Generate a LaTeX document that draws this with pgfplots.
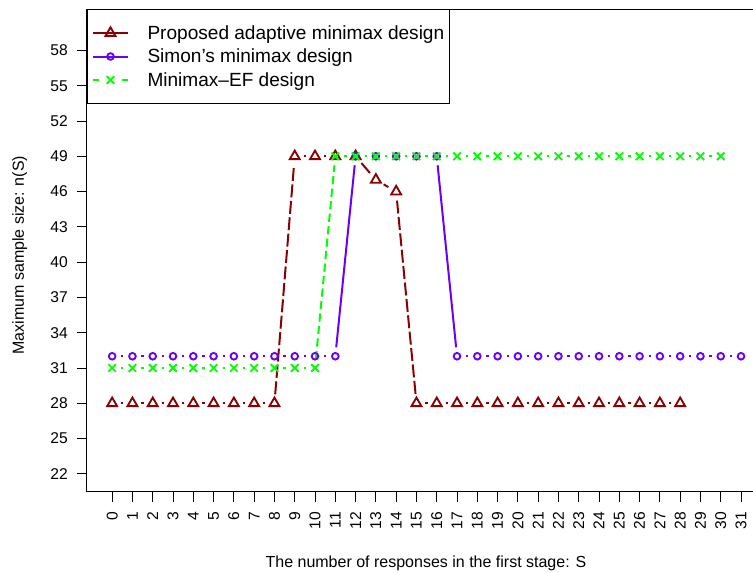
\documentclass[border=0pt]{standalone}
\usepackage{pgfplots}
\pgfplotsset{compat=1.18}
\usepackage{pgfplotstable}
\usepackage{fontspec}
\setmainfont{Liberation Sans}
\definecolor{cRed}{RGB}{139,0,0}
\definecolor{cPur}{RGB}{105,0,255}
\definecolor{cGrn}{RGB}{0,255,0}

% points
\pgfplotstableread{
x y
0 28
1 28
2 28
3 28
4 28
5 28
6 28
7 28
8 28
9 49
10 49
11 49
12 49
13 47
14 46
15 28
16 28
17 28
18 28
19 28
20 28
21 28
22 28
23 28
24 28
25 28
26 28
27 28
28 28
}\propP
\pgfplotstableread{
x y
0 32
1 32
2 32
3 32
4 32
5 32
6 32
7 32
8 32
9 32
10 32
11 32
12 49
13 49
14 49
15 49
16 49
17 32
18 32
19 32
20 32
21 32
22 32
23 32
24 32
25 32
26 32
27 32
28 32
29 32
30 32
31 32
}\simP
\pgfplotstableread{
x y
0 31
1 31
2 31
3 31
4 31
5 31
6 31
7 31
8 31
9 31
10 31
11 49
12 49
13 49
14 49
15 49
16 49
17 49
18 49
19 49
20 49
21 49
22 49
23 49
24 49
25 49
26 49
27 49
28 49
29 49
30 49
}\efP
% segments (type "b": each segment drawn with gaps at both ends)
\pgfplotstableread{
x y xn yn
0 28 1 28
1 28 2 28
2 28 3 28
3 28 4 28
4 28 5 28
5 28 6 28
6 28 7 28
7 28 8 28
8 28 9 49
9 49 10 49
10 49 11 49
11 49 12 49
12 49 13 47
13 47 14 46
14 46 15 28
15 28 16 28
16 28 17 28
17 28 18 28
18 28 19 28
19 28 20 28
20 28 21 28
21 28 22 28
22 28 23 28
23 28 24 28
24 28 25 28
25 28 26 28
26 28 27 28
27 28 28 28
}\propS
\pgfplotstableread{
x y xn yn
0 32 1 32
1 32 2 32
2 32 3 32
3 32 4 32
4 32 5 32
5 32 6 32
6 32 7 32
7 32 8 32
8 32 9 32
9 32 10 32
10 32 11 32
11 32 12 49
12 49 13 49
13 49 14 49
14 49 15 49
15 49 16 49
16 49 17 32
17 32 18 32
18 32 19 32
19 32 20 32
20 32 21 32
21 32 22 32
22 32 23 32
23 32 24 32
24 32 25 32
25 32 26 32
26 32 27 32
27 32 28 32
28 32 29 32
29 32 30 32
30 32 31 32
}\simS
\pgfplotstableread{
x y xn yn
0 31 1 31
1 31 2 31
2 31 3 31
3 31 4 31
4 31 5 31
5 31 6 31
6 31 7 31
7 31 8 31
8 31 9 31
9 31 10 31
10 31 11 49
11 49 12 49
12 49 13 49
13 49 14 49
14 49 15 49
15 49 16 49
16 49 17 49
17 49 18 49
18 49 19 49
19 49 20 49
20 49 21 49
21 49 22 49
22 49 23 49
23 49 24 49
24 49 25 49
25 49 26 49
26 49 27 49
27 49 28 49
28 49 29 49
29 49 30 49
}\efS

\begin{document}
\begin{tikzpicture}
\useasboundingbox (-65.25pt,-60.2pt) rectangle (499.5pt,368.8pt);
\begin{axis}[
  at={(0pt,0pt)}, anchor=south west,
  scale only axis, width=499.5pt, height=362pt,
  xmin=-1.24, xmax=31.59, ymin=20.48, ymax=61.52,
  axis x line*=box, axis y line*=left,
  xtick pos=left, ytick pos=left,
  axis line style={line width=0.75pt, black},
  tick align=outside, major tick length=7.5pt,
  every tick/.style={black, line width=0.75pt},
  xtick={0,...,31}, ytick={22,25,...,58},
  /pgf/number format/assume math mode=true,
  ticklabel style={font=\fontsize{11.7}{14}\selectfont, inner sep=0pt},
  xticklabel style={yshift=-7.5pt, rotate=90, anchor=east},
  yticklabel style={anchor=east, xshift=-6.75pt},
  xlabel={The number of responses in the first stage: S},
  ylabel={Maximum sample size: n(S)},
  label style={font=\fontsize{12}{14}\selectfont},
  xlabel style={at={([yshift=-56.5pt]rel axis cs:0.509,0)}, anchor=base},
  ylabel style={at={([xshift=-47.3pt]rel axis cs:0,0.49)}, anchor=base},
  legend cell align=left,
  legend image code/.code={
    \draw[mark repeat=2,mark phase=2,#1] plot coordinates {(0pt,0pt) (12.75pt,0pt) (25.5pt,0pt)};
    \path (39.75pt,0pt);
  },
  legend style={at={(rel axis cs:0,1)}, anchor=north west, draw=black, line width=0.75pt,
    fill=white, font=\fontsize{14.3}{17}\selectfont,
    inner xsep=3.75pt, inner ysep=8.8pt, row sep=0pt,
    nodes={inner sep=0pt, text height=13.4pt, text depth=4.2pt}},
]
% Proposed
\addplot[forget plot, color=cRed, line width=1.5pt, dash pattern=on 9.75pt off 2.6pt,
  quiver={u=\thisrow{xn}-\thisrow{x}, v=\thisrow{yn}-\thisrow{y},
    every arrow/.append style={shorten <=6.75pt, shorten >=6.75pt}}] table[x=x,y=y] {\propS};
\addplot[forget plot, only marks, color=cRed, mark=triangle, mark size=4.3pt,
  mark options={solid, line width=1.4pt}] table[x=x,y=y] {\propP};
% Simon
\addplot[forget plot, color=cPur, line width=1.5pt,
  quiver={u=\thisrow{xn}-\thisrow{x}, v=\thisrow{yn}-\thisrow{y},
    every arrow/.append style={shorten <=6.75pt, shorten >=6.75pt}}] table[x=x,y=y] {\simS};
\addplot[forget plot, only marks, color=cPur, mark=o, mark size=2.5pt,
  mark options={solid, line width=1.4pt}] table[x=x,y=y] {\simP};
% Minimax-EF
\addplot[forget plot, color=cGrn, line width=1.5pt, dash pattern=on 6.2pt off 3.2pt,
  quiver={u=\thisrow{xn}-\thisrow{x}, v=\thisrow{yn}-\thisrow{y},
    every arrow/.append style={shorten <=6.75pt, shorten >=6.75pt}}] table[x=x,y=y] {\efS};
\addplot[forget plot, only marks, color=cGrn, mark=x, mark size=4pt,
  mark options={solid, line width=1.4pt}] table[x=x,y=y] {\efP};
% legend
\addlegendimage{color=cRed, line width=1.5pt, mark=triangle, mark size=4.3pt, mark options={solid, line width=1.4pt}}
\addlegendentry{Proposed adaptive minimax design}
\addlegendimage{color=cPur, line width=1.5pt, mark=o, mark size=2.5pt, mark options={solid, line width=1.4pt}}
\addlegendentry{Simon’s minimax design}
\addlegendimage{color=cGrn, line width=1.5pt, dash pattern=on 4pt off 17.5pt on 4pt off 10pt, mark=x, mark size=4pt, mark options={solid, line width=1.4pt}}
\addlegendentry{Minimax\textendash EF design}
\end{axis}
\end{tikzpicture}
\end{document}
